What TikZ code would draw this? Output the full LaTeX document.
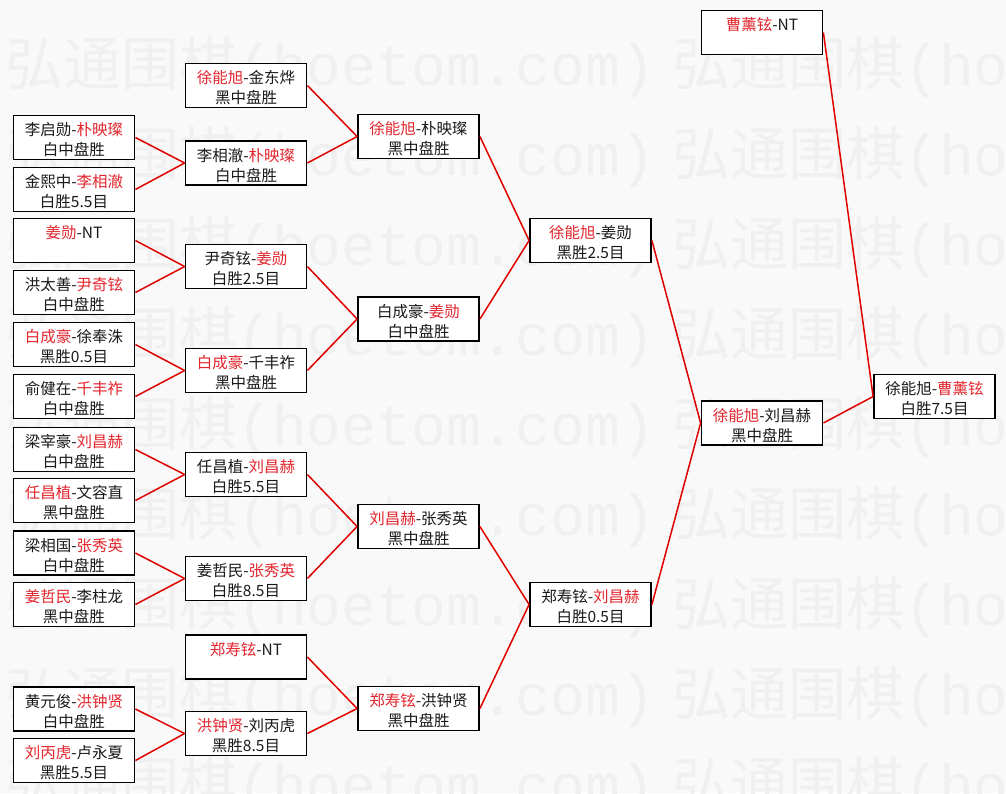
\documentclass[tikz,border=0pt]{standalone}
\usepackage{fontspec}
\newfontfamily\cjk{Noto Sans CJK SC}
\newfontfamily\wmmono{Liberation Mono}
\definecolor{bg}{HTML}{F9F9F9}
\definecolor{wmc}{HTML}{F0F0F0}
\definecolor{rtxt}{HTML}{E3262E}
\definecolor{ktxt}{HTML}{1A1A1A}
\definecolor{lnc}{HTML}{E00000}
\newcommand\rd[1]{\textcolor{rtxt}{#1}}
\newcommand\gm[5]{%
  \node[gbox] (#1) at (#2,#3) {};
  \node[gtxt] (#1t) at ([yshift=-2.5pt]#1.center) {#4\\#5};}
\tikzset{
  gbox/.style={draw=black, line width=1.8pt, fill=white, minimum width=121pt, minimum height=44pt, inner sep=0pt},
  gtxt/.style={font=\cjk\fontsize{15.5}{20}\selectfont, align=center, text=ktxt, inner sep=0pt},
  wm/.style={font=\cjk\fontsize{58}{60}\selectfont, text=wmc, inner sep=0pt, anchor=west},
  conn/.style={draw=lnc, line width=1.5pt},
}
\begin{document}
\begin{tikzpicture}[x=1pt,y=-1pt]
\fill[bg] (0,0) rectangle (1006,793);
\useasboundingbox (0,0) rectangle (1006,793);
% watermark
\foreach \r in {0,...,8}{
  \foreach \c/\xx in {0/5,1/672}{
    \node[wm] (wm-\r-\c) at (\xx,67+90*\r) {弘通围棋{\wmmono (hoetom.com)}};
  }
}
% column 1
\gm{a1}{74}{137.5}{李启勋-\rd{朴映璨}}{白中盘胜}
\gm{a2}{74}{189.5}{金熙中-\rd{李相澈}}{白胜5.5目}
\gm{a3}{74}{240.5}{\rd{姜勋}-NT}{\phantom{中}}
\gm{a4}{74}{292.5}{洪太善-\rd{尹奇铉}}{白中盘胜}
\gm{a5}{74}{344.5}{\rd{白成豪}-徐奉洙}{黑胜0.5目}
\gm{a6}{74}{396.5}{俞健在-\rd{千丰祚}}{白中盘胜}
\gm{a7}{74}{449.5}{梁宰豪-\rd{刘昌赫}}{白中盘胜}
\gm{a8}{74}{500.5}{\rd{任昌植}-文容直}{黑中盘胜}
\gm{a9}{74}{553}{梁相国-\rd{张秀英}}{白中盘胜}
\gm{a10}{74}{604.5}{\rd{姜哲民}-李柱龙}{黑中盘胜}
\gm{a11}{74}{709}{黄元俊-\rd{洪钟贤}}{白中盘胜}
\gm{a12}{74}{760.5}{\rd{刘丙虎}-卢永夏}{黑胜5.5目}
% column 2
\gm{b1}{246}{85.5}{\rd{徐能旭}-金东烨}{黑中盘胜}
\gm{b2}{246}{163}{李相澈-\rd{朴映璨}}{白中盘胜}
\gm{b3}{246}{266.5}{尹奇铉-\rd{姜勋}}{白胜2.5目}
\gm{b4}{246}{370.5}{\rd{白成豪}-千丰祚}{黑中盘胜}
\gm{b5}{246}{474.5}{任昌植-\rd{刘昌赫}}{白胜5.5目}
\gm{b6}{246}{578.5}{姜哲民-\rd{张秀英}}{白胜8.5目}
\gm{b7}{246}{657}{\rd{郑寿铉}-NT}{\phantom{中}}
\gm{b8}{246}{733.5}{\rd{洪钟贤}-刘丙虎}{黑胜8.5目}
% column 3
\gm{c1}{418.5}{136.5}{\rd{徐能旭}-朴映璨}{黑中盘胜}
\gm{c2}{418.5}{319}{白成豪-\rd{姜勋}}{白中盘胜}
\gm{c3}{418.5}{526.5}{\rd{刘昌赫}-张秀英}{黑中盘胜}
\gm{c4}{418.5}{708.5}{\rd{郑寿铉}-洪钟贤}{黑中盘胜}
% column 4
\gm{d1}{590.5}{240.5}{\rd{徐能旭}-姜勋}{黑胜2.5目}
\gm{d2}{590.5}{604.5}{郑寿铉-\rd{刘昌赫}}{白胜0.5目}
% column 5
\gm{e1}{762}{32.5}{\rd{曹薰铉}-NT}{\phantom{中}}
\gm{e2}{762}{423}{\rd{徐能旭}-刘昌赫}{黑中盘胜}
% column 6
\gm{f1}{934.5}{396.5}{徐能旭-\rd{曹薰铉}}{白胜7.5目}
% connectors
\foreach \ch/\pa in {a1/b2,a2/b2,a3/b3,a4/b3,a5/b4,a6/b4,a7/b5,a8/b5,a9/b6,a10/b6,a11/b8,a12/b8,
  b1/c1,b2/c1,b3/c2,b4/c2,b5/c3,b6/c3,b7/c4,b8/c4,c1/d1,c2/d1,c3/d2,c4/d2,d1/e2,d2/e2,e1/f1,e2/f1}{
  \draw[conn] (\ch.east) -- (\pa.west);
}
\end{tikzpicture}
\end{document}
